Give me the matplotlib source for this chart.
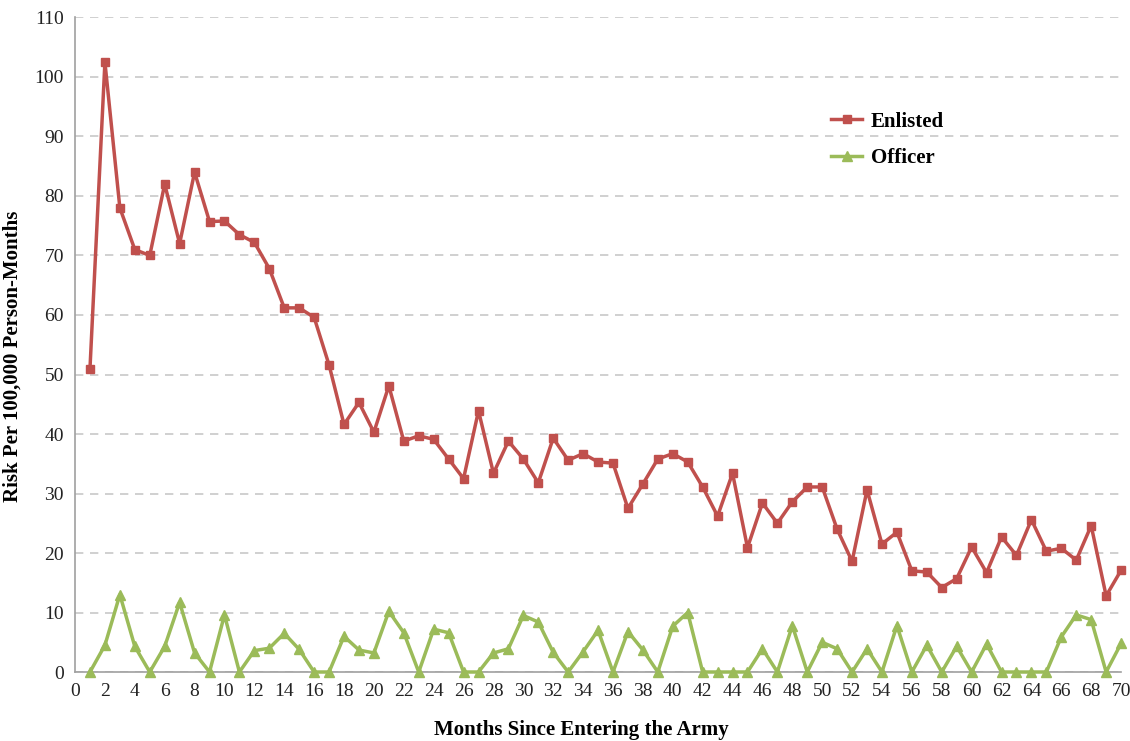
import numpy as np
from matplotlib import pyplot as plt

months = list(range(1, 71))
enlisted = [51.0, 102.5, 78.0, 71.0, 70.0, 82.0, 72.0, 84.0, 75.7, 75.8,
            73.5, 72.2, 67.8, 61.2, 61.2, 59.6, 51.6, 41.6, 45.3, 40.3,
            48.1, 38.8, 39.7, 39.1, 35.8, 32.5, 43.9, 33.4, 38.8, 35.8,
            31.8, 39.3, 35.6, 36.7, 35.3, 35.1, 27.5, 31.6, 35.8, 36.7,
            35.3, 31.1, 26.2, 33.4, 20.9, 28.4, 25.0, 28.6, 31.1, 31.1,
            24.0, 18.6, 30.6, 21.5, 23.5, 17.0, 16.8, 14.2, 15.7, 21.0,
            16.7, 22.7, 19.6, 25.6, 20.3, 20.8, 18.8, 24.6, 12.8, 17.1]
officer = [0, 4.5, 13.0, 4.3, 0, 4.3, 11.7, 3.2, 0, 9.6,
           0, 3.6, 4.0, 6.5, 3.8, 0, 0, 6.0, 3.7, 3.2,
           10.2, 6.6, 0, 7.2, 6.6, 0, 0, 3.2, 3.9, 9.5,
           8.4, 3.3, 0, 3.4, 7.0, 0, 6.8, 3.7, 0, 7.7,
           10.0, 0, 0, 0, 0, 3.9, 0, 7.8, 0, 5.0,
           3.9, 0, 3.9, 0, 7.8, 0, 4.5, 0, 4.3, 0,
           4.7, 0, 0, 0, 0, 5.9, 9.6, 8.8, 0, 4.8]

plt.rcParams['font.family'] = ['Liberation Serif', 'DejaVu Serif']

fig = plt.figure(figsize=(11.3, 7.41), dpi=100)
ax = fig.add_axes([0.0664, 0.0931, 0.9257, 0.8833])

ax.plot(months, enlisted, color='#C0504D', linewidth=2.5, marker='s',
        markersize=6, label='Enlisted', clip_on=False, zorder=3)
ax.plot(months, officer, color='#9BBB59', linewidth=2.5, marker='^',
        markersize=6.5, label='Officer', clip_on=False, zorder=3)

ax.set_xlim(0, 70)
ax.set_ylim(0, 110)
ax.set_xticks(range(0, 71, 2))
ax.set_yticks(range(0, 111, 10))
ax.tick_params(length=0, labelsize=14, pad=8, labelcolor='#222222')
ax.grid(axis='y', color='#C8C8C8', linestyle=(0, (5, 4)), linewidth=1.2)
ax.set_axisbelow(True)
for s in ['top', 'right']:
    ax.spines[s].set_visible(False)
for s in ['left', 'bottom']:
    ax.spines[s].set_color('#A0A0A0')
    ax.spines[s].set_linewidth(1.2)

ax.set_xlabel('Months Since Entering the Army', fontsize=15, fontweight='bold')
ax.set_ylabel('Risk Per 100,000 Person-Months', fontsize=15, fontweight='bold')
ax.xaxis.set_label_coords(0.4837, -0.074)
ax.yaxis.set_label_coords(-0.05, 0.483)

ax.legend(loc='upper left', bbox_to_anchor=(0.705, 0.885), frameon=False,
          prop={'size': 15, 'weight': 'bold'}, handlelength=1.5,
          handletextpad=0.4, labelspacing=0.8)

plt.savefig('out.png')
plt.close()
